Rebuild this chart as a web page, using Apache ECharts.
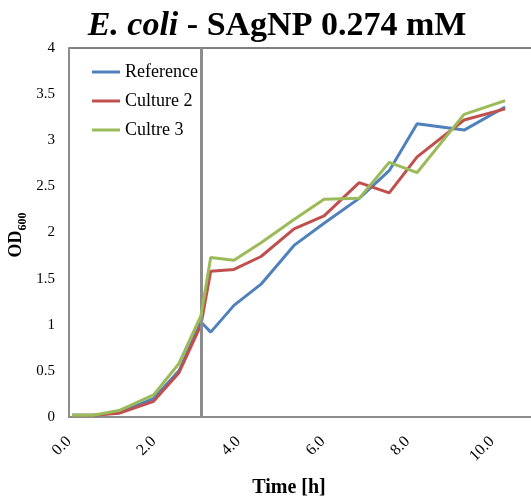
<!DOCTYPE html>
<html>
<head>
<meta charset="utf-8">
<script src="https://cdn.jsdelivr.net/npm/echarts@6/dist/echarts.min.js"></script>
<style>
  html, body { margin: 0; padding: 0; background: #fff; }
  #chart { width: 531px; height: 496px; }
</style>
</head>
<body>
<div id="chart"></div>
<script>
// Sampling times in hours
const times = [0.07, 0.57, 1.18, 2.0, 2.6, 3.12, 3.35, 3.9, 4.54, 5.32, 6.03, 6.86, 7.57, 8.23, 9.34, 10.31];
// OD600 readings per culture
const reference = [0.02, 0.02, 0.05, 0.20, 0.50, 1.03, 0.92, 1.21, 1.44, 1.86, 2.10, 2.37, 2.67, 3.18, 3.11, 3.36];
const culture2  = [0.02, 0.02, 0.04, 0.17, 0.48, 1.00, 1.58, 1.60, 1.74, 2.04, 2.18, 2.54, 2.43, 2.82, 3.22, 3.34];
const culture3  = [0.02, 0.02, 0.07, 0.24, 0.58, 1.10, 1.73, 1.70, 1.89, 2.14, 2.36, 2.37, 2.76, 2.65, 3.28, 3.43];
const seriesNames = ['Reference', 'Culture 2', 'Cultre 3'];
// Time at which SAgNP was added
const additionTime = 3.13;

const serif = '"Liberation Serif", "Times New Roman", serif';
const colors = ['#4F81BD', '#C0504D', '#9BBB59'];
const pairs = v => times.map((t, i) => [t, v[i]]);

const chart = echarts.init(document.getElementById('chart'), null, { renderer: 'canvas' });

const lineSeries = [reference, culture2, culture3].map((vals, k) => ({
  name: seriesNames[k],
  type: 'line',
  data: pairs(vals),
  symbol: 'none',
  smooth: false,
  z: 3 + k,
  lineStyle: { width: 3, color: colors[k] },
  itemStyle: { color: colors[k] }
}));

// Vertical marker at the time of addition, drawn above the curves
lineSeries.push({
  name: 'addition',
  type: 'line',
  data: [],
  z: 10,
  markLine: {
    silent: true,
    symbol: 'none',
    label: { show: false },
    lineStyle: { color: '#8c8c8c', width: 3, type: 'solid' },
    data: [{ xAxis: additionTime }]
  }
});

chart.setOption({
  animation: false,
  backgroundColor: '#fff',
  grid: {
    left: 69, top: 48, width: 507.6, height: 369,
    outerBoundsMode: 'none',
    containLabel: false,
    show: true, borderColor: '#000', borderWidth: 1, backgroundColor: 'transparent'
  },
  legend: {
    orient: 'vertical',
    left: 92, top: 62,
    padding: 0,
    itemGap: 9,
    itemWidth: 28, itemHeight: 3,
    icon: 'rect',
    data: seriesNames,
    textStyle: { fontFamily: serif, fontSize: 18, color: '#000', lineHeight: 20 }
  },
  xAxis: {
    type: 'value',
    min: 0, max: 12, interval: 2,
    axisLine: { show: true, lineStyle: { color: '#8c8c8c', width: 2 } },
    axisTick: { show: false },
    splitLine: { show: false },
    axisLabel: {
      rotate: 45, margin: 22,
      fontFamily: serif, fontSize: 16, color: '#000',
      formatter: v => v.toFixed(1)
    }
  },
  yAxis: {
    type: 'value',
    min: 0, max: 4, interval: 0.5,
    axisLine: { show: true, lineStyle: { color: '#8c8c8c', width: 2 } },
    axisTick: { show: false },
    splitLine: { show: false },
    axisLabel: { margin: 14, fontFamily: serif, fontSize: 15, color: '#000' }
  },
  graphic: [
    {
      type: 'text', x: 277, y: 26,
      style: {
        text: '{i|E. coli}{b| - SAgNP 0.274 mM}',
        align: 'center', verticalAlign: 'middle',
        rich: {
          i: { fontFamily: serif, fontSize: 34, fontWeight: 'bold', fontStyle: 'italic', fill: '#000' },
          b: { fontFamily: serif, fontSize: 34, fontWeight: 'bold', fill: '#000' }
        }
      }
    },
    {
      type: 'text', x: 289, y: 488,
      style: {
        text: 'Time [h]',
        align: 'center', verticalAlign: 'middle',
        font: 'bold 20px ' + serif, fill: '#000'
      }
    },
    {
      type: 'text', x: 14, y: 235, rotation: Math.PI / 2,
      style: {
        text: '{a|OD}{s|600}',
        align: 'center', verticalAlign: 'middle',
        rich: {
          a: { fontFamily: serif, fontSize: 18, fontWeight: 'bold', fill: '#000', lineHeight: 22, verticalAlign: 'bottom' },
          s: { fontFamily: serif, fontSize: 12, fontWeight: 'bold', fill: '#000', lineHeight: 22, verticalAlign: 'bottom', padding: [0, 0, -4, 0] }
        }
      }
    }
  ],
  series: lineSeries
});
</script>
</body>
</html>
